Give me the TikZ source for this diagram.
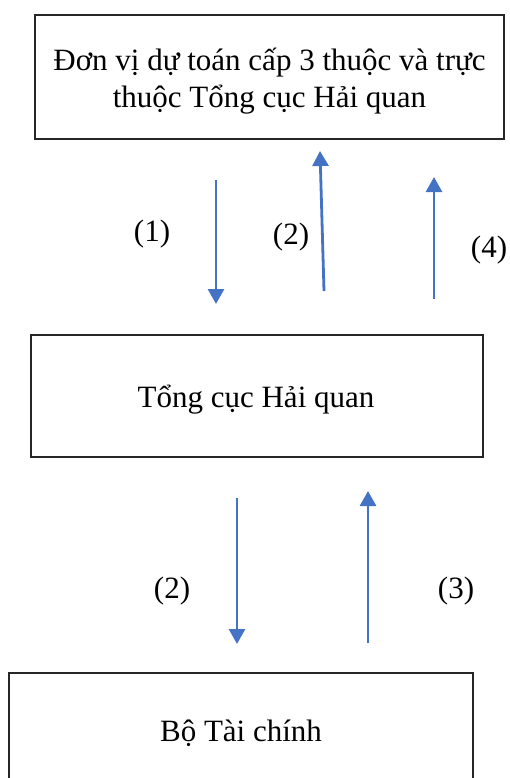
\documentclass[tikz,border=0pt]{standalone}
\usepackage{fontspec}
\setmainfont{Liberation Serif}
\usetikzlibrary{positioning, arrows.meta}
\definecolor{arrowblue}{HTML}{4472C4}
\tikzset{
  box/.style={draw=black!85, line width=1.3pt, inner sep=0pt},
  txt/.style={align=center, inner sep=0pt},
  flow/.style={arrowblue, line width=2.8pt, -{Triangle[width=16pt,length=15pt]}},
  lbl/.style={inner sep=0pt}
}

\begin{document}
\begin{tikzpicture}[x=1pt, y=-1pt, font=\fontsize{31}{37}\selectfont]
        \clip (0,0) rectangle (509,778);
        \useasboundingbox (0,0) rectangle (509,778);

        % Boxes
        \node[box, minimum width=469pt, minimum height=124pt] (donvi) at (269.5,77) {};
        \node[txt] (donvitext) at (269.5,81)
             {Đơn vị dự toán cấp 3 thuộc và trực\\thuộc Tổng cục Hải quan};
        \node[box, minimum width=452pt, minimum height=122pt] (tongcuc) at (257,396) {};
        \node[txt] (tongcuctext) at (256,400) {Tổng cục Hải quan};
        \node[box, minimum width=464pt, minimum height=140pt] (botc) at (241,743) {};
        \node[txt] (botctext) at (241,733) {Bộ Tài chính};

        % Arrow ends, upper part
        \coordinate (a1s) at (216,180);  \coordinate (a1e) at (216,304);
        \coordinate (a2s) at (324,291);  \coordinate (a2e) at (320,151);
        \coordinate (a4s) at (434,299);  \coordinate (a4e) at (434,177);
        % Arrow ends, lower part
        \coordinate (b2s) at (237,498);  \coordinate (b2e) at (237,644);
        \coordinate (b3s) at (368,643);  \coordinate (b3e) at (368,491);

        \draw[flow] (a1s) -- (a1e);
        \draw[flow] (a2s) -- (a2e);
        \draw[flow] (a4s) -- (a4e);
        \draw[flow] (b2s) -- (b2e);
        \draw[flow] (b3s) -- (b3e);

        % Labels
        \node[lbl] (l1) at (152,234) {(1)};
        \node[lbl] (l2) at (291,237) {(2)};
        \node[lbl] (l4) at (489,250) {(4)};
        \node[lbl] (l2b) at (172,591) {(2)};
        \node[lbl] (l3) at (456,591) {(3)};
    \end{tikzpicture}
\end{document}
